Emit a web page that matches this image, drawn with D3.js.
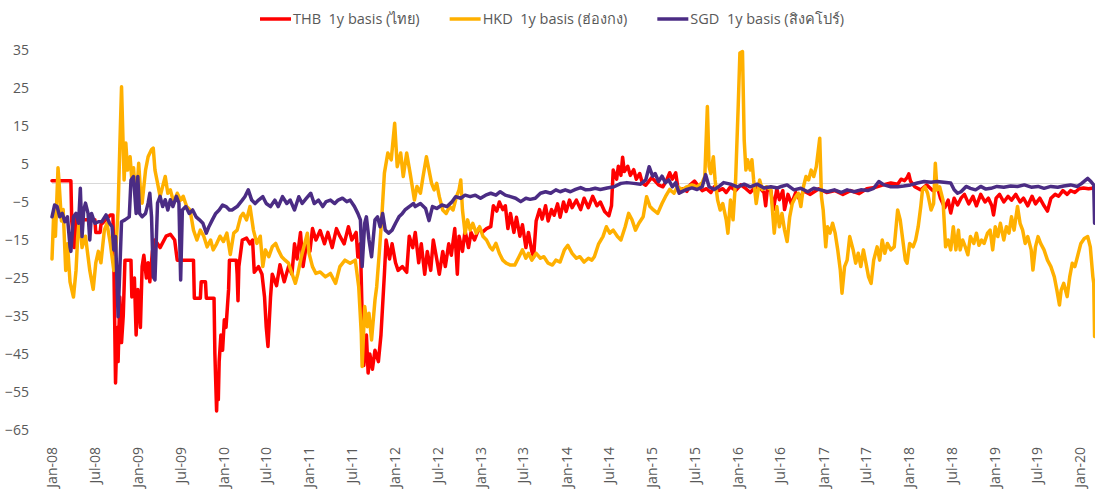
<!DOCTYPE html>
<meta charset="utf-8">
<style>
    body { margin: 0; background: #fff; }
    text {
        font-family: "Open Sans", "Noto Sans", "DejaVu Sans", sans-serif;
        font-size: 14px;
        fill: #595959;
    }
    .legend text { font-size: 14.5px; }
    .series { fill: none; stroke-width: 3.5px; stroke-linejoin: round; stroke-linecap: round; }
    .zero { stroke: #d9d9d9; stroke-width: 1px; }
    .axis path, .axis line { display: none; }
</style>
<body>
    <svg width="1095" height="490"></svg>
</body>
<script src="https://d3js.org/d3.v7.min.js"></script>
<script>
    // [decimal year, basis]
    var thbBasis = [[2008.00,0.6],[2008.22,0.6],[2008.23,-10],[2008.26,-17],[2008.28,-9],[2008.30,-14],[2008.33,-9.7],[2008.50,-9.7],[2008.51,-13],[2008.56,-13],[2008.57,-11],[2008.68,-8.4],[2008.71,-8.4],[2008.72,-20],[2008.74,-52.6],[2008.75,-45],[2008.76,-38],[2008.77,-47],[2008.79,-30],[2008.81,-42],[2008.83,-35],[2008.85,-20.3],[2008.92,-20.3],[2008.93,-30],[2008.96,-25],[2008.98,-40],[2009.00,-28],[2009.03,-38],[2009.05,-22],[2009.07,-19],[2009.10,-25],[2009.12,-21],[2009.14,-26],[2009.17,-18],[2009.20,-15],[2009.26,-17],[2009.33,-14],[2009.38,-13.5],[2009.43,-15],[2009.46,-20.3],[2009.65,-20.3],[2009.66,-30.3],[2009.73,-30.3],[2009.74,-26],[2009.79,-26],[2009.80,-30.3],[2009.89,-30.3],[2009.90,-45],[2009.92,-60],[2009.93,-52],[2009.94,-57],[2009.95,-47],[2009.97,-40],[2009.99,-44],[2010.01,-36],[2010.03,-38],[2010.06,-28],[2010.07,-20.3],[2010.15,-20.3],[2010.16,-24],[2010.17,-31],[2010.18,-22],[2010.22,-15],[2010.27,-14.5],[2010.31,-16],[2010.34,-15],[2010.36,-23.5],[2010.41,-22],[2010.45,-24],[2010.48,-30],[2010.50,-38],[2010.52,-43],[2010.55,-30],[2010.57,-24],[2010.62,-27],[2010.66,-21.5],[2010.71,-26],[2010.76,-22],[2010.80,-24],[2010.83,-16],[2010.86,-20],[2010.90,-13],[2010.93,-22],[2010.97,-16],[2011.01,-18],[2011.04,-12],[2011.08,-15],[2011.13,-12.5],[2011.18,-16],[2011.22,-13],[2011.27,-17],[2011.32,-12],[2011.36,-14],[2011.41,-16],[2011.46,-11.5],[2011.50,-15],[2011.55,-13],[2011.57,-19.5],[2011.60,-16],[2011.62,-35],[2011.64,-48],[2011.67,-40],[2011.69,-50],[2011.71,-45],[2011.74,-49],[2011.77,-44],[2011.81,-47],[2011.84,-40],[2011.88,-24],[2011.90,-15],[2011.94,-20],[2011.97,-16],[2012.01,-21],[2012.04,-23],[2012.09,-22],[2012.14,-23.5],[2012.17,-14],[2012.21,-17],[2012.24,-13],[2012.28,-21],[2012.31,-16],[2012.35,-24],[2012.38,-18],[2012.42,-23],[2012.45,-15],[2012.49,-20],[2012.52,-24],[2012.56,-18],[2012.59,-22],[2012.63,-16],[2012.66,-19],[2012.70,-12],[2012.73,-24],[2012.75,-14],[2012.79,-18],[2012.82,-12.5],[2012.86,-17],[2012.89,-13],[2012.93,-15],[2012.98,-12],[2013.02,-13],[2013.07,-12],[2013.12,-11.5],[2013.15,-6],[2013.19,-7.4],[2013.22,-5],[2013.26,-7],[2013.29,-6],[2013.32,-12],[2013.35,-8],[2013.39,-13],[2013.42,-9],[2013.46,-14],[2013.49,-11],[2013.53,-17],[2013.56,-13],[2013.60,-18],[2013.62,-19.5],[2013.65,-10],[2013.69,-7],[2013.72,-9.5],[2013.76,-6],[2013.79,-10],[2013.83,-7],[2013.86,-8.5],[2013.90,-5.5],[2013.93,-9],[2013.97,-5],[2014.00,-7.5],[2014.04,-4.5],[2014.07,-6.5],[2014.12,-4.5],[2014.17,-7],[2014.21,-4],[2014.26,-6.5],[2014.31,-3.5],[2014.36,-6],[2014.40,-5],[2014.45,-7.5],[2014.50,-8.6],[2014.53,-6],[2014.55,3.4],[2014.59,1],[2014.61,4.4],[2014.64,2],[2014.66,6.8],[2014.68,3],[2014.72,4.4],[2014.75,2],[2014.79,3.5],[2014.82,1],[2014.86,2.5],[2014.89,0],[2014.93,-0.6],[2014.96,0.3],[2015.00,1.4],[2015.04,0.5],[2015.08,-0.5],[2015.13,-1],[2015.17,0.5],[2015.21,2.7],[2015.24,1],[2015.28,2.7],[2015.31,-2],[2015.36,-1.5],[2015.41,-2.2],[2015.45,-0.5],[2015.50,0.5],[2015.55,-1],[2015.59,-2],[2015.64,-1.5],[2015.69,-2.5],[2015.73,-1],[2015.78,-2],[2015.83,-1.5],[2015.87,-2.5],[2015.92,-1],[2015.98,-2],[2016.04,-0.5],[2016.10,-1.5],[2016.15,-2.5],[2016.21,-1],[2016.27,-1.5],[2016.31,-2.5],[2016.33,-6],[2016.35,-1.5],[2016.39,-2],[2016.42,-7],[2016.46,-1.5],[2016.49,-4.4],[2016.53,-2],[2016.55,-7],[2016.59,-3],[2016.63,-5.5],[2016.68,-2.5],[2016.73,-4.5],[2016.77,-2],[2016.85,-3],[2016.95,-1.5],[2017.04,-2.5],[2017.14,-2],[2017.23,-3],[2017.32,-2],[2017.42,-2.8],[2017.51,-1.5],[2017.60,-1.2],[2017.70,-0.5],[2017.79,0],[2017.87,-0.3],[2017.91,1],[2017.95,0.6],[2017.98,1.4],[2018.00,2.4],[2018.02,0.5],[2018.07,-1],[2018.14,-1.8],[2018.21,-0.5],[2018.28,-2],[2018.34,-1.5],[2018.37,-4],[2018.42,-6.5],[2018.46,-4.5],[2018.49,-7.9],[2018.53,-4],[2018.57,-5.8],[2018.61,-4],[2018.65,-3],[2018.70,-5.5],[2018.75,-3.5],[2018.79,-6],[2018.84,-3],[2018.89,-5],[2018.93,-4],[2018.97,-6],[2018.99,-8.4],[2019.02,-4],[2019.06,-3],[2019.11,-5],[2019.16,-3.5],[2019.20,-4.5],[2019.25,-3],[2019.30,-5],[2019.34,-4],[2019.39,-6],[2019.44,-3.5],[2019.48,-5.5],[2019.53,-4],[2019.58,-6],[2019.62,-7.4],[2019.66,-4],[2019.71,-3],[2019.75,-3.5],[2019.80,-2],[2019.85,-3],[2019.89,-2],[2019.94,-2.5],[2019.99,-1.5],[2020.04,-1.3],[2020.10,-1.5],[2020.16,-1.3]];

    var hkdBasis = [[2008.00,-20],[2008.02,-8],[2008.04,-14],[2008.07,4],[2008.08,1],[2008.11,-10],[2008.13,-7],[2008.16,-23],[2008.18,-16],[2008.21,-26],[2008.25,-30],[2008.28,-23],[2008.30,-14],[2008.32,-9],[2008.35,-17],[2008.39,-14],[2008.42,-19.4],[2008.44,-23],[2008.48,-28],[2008.51,-21],[2008.54,-18],[2008.57,-21],[2008.61,-12.4],[2008.64,-10.6],[2008.68,-16],[2008.72,-23],[2008.74,-19],[2008.77,-7],[2008.79,9.6],[2008.81,25.3],[2008.83,9],[2008.84,0.8],[2008.86,10.5],[2008.88,3.4],[2008.91,6.9],[2008.93,0.8],[2008.95,4],[2008.98,-5.3],[2009.01,5.2],[2009.03,-1.8],[2009.05,-5.3],[2009.09,3.4],[2009.12,6.9],[2009.16,8.8],[2009.18,9.2],[2009.20,3.4],[2009.23,0],[2009.26,-3.5],[2009.29,-0.9],[2009.32,1.7],[2009.35,-2.7],[2009.38,-1.8],[2009.42,-5.3],[2009.46,-2.7],[2009.50,-4.5],[2009.53,-3.5],[2009.57,-6.2],[2009.61,-7.1],[2009.65,-12.4],[2009.69,-15],[2009.73,-12.4],[2009.77,-14],[2009.81,-16.8],[2009.85,-15],[2009.88,-17.6],[2009.92,-16],[2009.96,-14],[2010.00,-15.4],[2010.04,-13.2],[2010.08,-18.8],[2010.12,-13.2],[2010.16,-12.4],[2010.20,-8.9],[2010.23,-8],[2010.27,-9.7],[2010.31,-6.2],[2010.35,-12.4],[2010.39,-15.9],[2010.43,-14],[2010.46,-22],[2010.49,-17.6],[2010.53,-19.4],[2010.57,-16.8],[2010.61,-15.9],[2010.64,-17.6],[2010.68,-19.4],[2010.72,-20.3],[2010.76,-21.1],[2010.80,-23.8],[2010.84,-26.4],[2010.87,-23.8],[2010.91,-19.4],[2010.95,-15.9],[2010.98,-13.2],[2011.00,-18.5],[2011.04,-22],[2011.08,-23.8],[2011.13,-23.4],[2011.19,-24.7],[2011.25,-23.8],[2011.31,-26.4],[2011.36,-22],[2011.42,-20.3],[2011.48,-21.1],[2011.54,-20.3],[2011.58,-27.3],[2011.61,-39.6],[2011.62,-48.3],[2011.65,-32.5],[2011.68,-37.8],[2011.70,-34.3],[2011.73,-41.3],[2011.77,-30.8],[2011.79,-27.3],[2011.82,-18.5],[2011.85,-8.9],[2011.88,2.6],[2011.92,7.9],[2011.96,6.1],[2012.00,15.7],[2012.03,4.3],[2012.07,7.9],[2012.10,1.7],[2012.14,7.9],[2012.18,2.6],[2012.23,-4.5],[2012.26,-0.9],[2012.30,-2.7],[2012.33,1.6],[2012.37,6.9],[2012.40,3.4],[2012.43,-0.1],[2012.46,-1.8],[2012.49,-0.1],[2012.52,-3.6],[2012.56,-7.1],[2012.60,-8],[2012.64,-6.2],[2012.68,-7.1],[2012.72,-3.6],[2012.75,-1.8],[2012.77,0.8],[2012.79,-7.1],[2012.82,-13.2],[2012.85,-9.7],[2012.88,-12.4],[2012.91,-10.6],[2012.95,-13.2],[2012.99,-11.5],[2013.03,-14.1],[2013.07,-15],[2013.11,-16.8],[2013.14,-17.6],[2013.18,-15.9],[2013.22,-18.5],[2013.26,-20.3],[2013.30,-21.1],[2013.35,-21.6],[2013.40,-21.6],[2013.45,-19.4],[2013.49,-17.6],[2013.53,-19.8],[2013.56,-18.5],[2013.60,-20.3],[2013.65,-18.5],[2013.70,-19.8],[2013.74,-19.4],[2013.79,-21.1],[2013.84,-21.6],[2013.88,-20.3],[2013.93,-20.8],[2013.98,-17.6],[2014.02,-16.4],[2014.07,-18.5],[2014.12,-19.8],[2014.16,-19.4],[2014.21,-20.8],[2014.26,-19.8],[2014.30,-20.3],[2014.33,-19.4],[2014.38,-16],[2014.43,-14.1],[2014.47,-11.5],[2014.51,-13.2],[2014.55,-12.4],[2014.60,-14.1],[2014.64,-15],[2014.69,-11.5],[2014.73,-8],[2014.77,-9.7],[2014.81,-12.4],[2014.85,-10.6],[2014.90,-8.9],[2014.94,-3.6],[2014.98,-6.2],[2015.02,-7.1],[2015.07,-8],[2015.12,-5.4],[2015.16,-3.6],[2015.21,-1.7],[2015.26,-2.7],[2015.30,-1],[2015.36,-1.7],[2015.41,-1],[2015.47,-0.5],[2015.53,-1],[2015.59,0.1],[2015.62,1.7],[2015.65,20.1],[2015.67,4.3],[2015.69,2.5],[2015.72,6.9],[2015.74,0.8],[2015.77,-4.5],[2015.80,-7.1],[2015.83,-5.4],[2015.87,-9.7],[2015.89,-13.2],[2015.92,-4.5],[2015.95,-9.7],[2015.98,0.8],[2016.01,20.1],[2016.03,34.2],[2016.06,34.6],[2016.08,11.3],[2016.10,3.4],[2016.12,6.1],[2016.15,3.4],[2016.17,6.1],[2016.19,0.8],[2016.22,-5.4],[2016.26,0.8],[2016.29,-1.7],[2016.34,-1],[2016.39,-1.7],[2016.43,-13.2],[2016.46,-6.2],[2016.49,-11.5],[2016.52,-8],[2016.55,-12.4],[2016.58,-15.4],[2016.61,-8.9],[2016.64,-5.4],[2016.68,-3.6],[2016.71,-2.7],[2016.74,-6.2],[2016.77,-1],[2016.80,1.7],[2016.83,0.8],[2016.86,3.4],[2016.89,1.7],[2016.92,4.3],[2016.96,11.8],[2016.98,-3.6],[2017.00,-7.1],[2017.03,-16.8],[2017.05,-11.5],[2017.08,-13.2],[2017.11,-10.6],[2017.14,-13.2],[2017.17,-17.6],[2017.20,-22.9],[2017.22,-29],[2017.25,-22],[2017.28,-20.3],[2017.31,-14.1],[2017.35,-17.6],[2017.38,-21.1],[2017.41,-18.5],[2017.44,-22],[2017.47,-17.6],[2017.50,-21.1],[2017.53,-24.7],[2017.56,-26.4],[2017.59,-20.3],[2017.63,-16.8],[2017.66,-20.3],[2017.69,-15],[2017.72,-18.5],[2017.75,-15.9],[2017.79,-17.6],[2017.83,-16.8],[2017.87,-7.1],[2017.90,-9.7],[2017.93,-15],[2017.96,-20.3],[2017.98,-21.1],[2018.01,-15.9],[2018.05,-16.8],[2018.08,-15],[2018.11,-11.5],[2018.14,-6.2],[2018.16,-1.8],[2018.19,-1],[2018.22,-2.7],[2018.26,-7.1],[2018.29,-5.4],[2018.31,5.2],[2018.33,-1.8],[2018.36,-1],[2018.40,-4.5],[2018.43,-16.8],[2018.46,-15],[2018.49,-17.6],[2018.52,-11.5],[2018.55,-17.6],[2018.58,-12.4],[2018.60,-17.6],[2018.63,-15],[2018.66,-16.8],[2018.69,-18.9],[2018.72,-14.1],[2018.76,-15.9],[2018.79,-13.2],[2018.82,-16.4],[2018.85,-15],[2018.88,-15.9],[2018.92,-13.2],[2018.95,-12.4],[2018.98,-17.6],[2019.01,-11.5],[2019.04,-14.1],[2019.07,-10.6],[2019.11,-15],[2019.14,-11.5],[2019.17,-13.2],[2019.20,-8.9],[2019.23,-12.4],[2019.27,-6.2],[2019.30,-10.6],[2019.33,-12.4],[2019.36,-15.9],[2019.39,-14.1],[2019.43,-17.6],[2019.45,-22.9],[2019.48,-16.8],[2019.51,-14.1],[2019.54,-15.9],[2019.58,-17.6],[2019.62,-20.3],[2019.66,-22],[2019.70,-24.7],[2019.73,-28.2],[2019.76,-32.1],[2019.78,-28.2],[2019.81,-26.4],[2019.85,-29.9],[2019.88,-24.7],[2019.91,-21.1],[2019.94,-22],[2019.97,-19.4],[2020.01,-15.9],[2020.05,-14.6],[2020.09,-14.1],[2020.12,-16.8],[2020.15,-24.7],[2020.16,-26.4],[2020.17,-40.4]];

    var sgdBasis = [[2008.00,-8.9],[2008.03,-5.8],[2008.06,-6.2],[2008.09,-8.9],[2008.12,-8],[2008.15,-10.2],[2008.18,-8.9],[2008.21,-16.8],[2008.22,-18],[2008.25,-8.9],[2008.28,-8],[2008.31,-10.6],[2008.33,-1.4],[2008.35,-14.1],[2008.37,-7.1],[2008.39,-5.3],[2008.42,-8],[2008.44,-15],[2008.46,-8],[2008.50,-10.6],[2008.54,-10.2],[2008.58,-10.2],[2008.63,-8.4],[2008.67,-10.6],[2008.70,-11.5],[2008.72,-17.6],[2008.74,-14.1],[2008.77,-35.2],[2008.79,-22.9],[2008.81,-10.2],[2008.85,-9.7],[2008.90,-8.9],[2008.92,0.8],[2008.95,1.7],[2008.98,-8],[2009.00,1.7],[2009.02,-8],[2009.05,-8.9],[2009.09,-8],[2009.12,-5.3],[2009.14,-2.7],[2009.16,-8.9],[2009.18,-24.7],[2009.20,-25.5],[2009.23,-5.3],[2009.26,-3.5],[2009.29,-6.2],[2009.32,-4.4],[2009.35,-7.1],[2009.38,-4.4],[2009.41,-6.2],[2009.45,-3.5],[2009.48,-5.3],[2009.50,-25.5],[2009.52,-7.1],[2009.56,-6.2],[2009.60,-8],[2009.64,-7.1],[2009.68,-8.9],[2009.72,-9.7],[2009.76,-10.6],[2009.80,-13.2],[2009.83,-11.5],[2009.87,-9.7],[2009.91,-8],[2009.95,-7.1],[2009.99,-5.8],[2010.03,-6.2],[2010.07,-7.1],[2010.10,-7.1],[2010.16,-6.2],[2010.22,-4.5],[2010.25,-3.6],[2010.29,-1.8],[2010.33,-4.5],[2010.37,-5.4],[2010.41,-4.5],[2010.46,-3.6],[2010.50,-5.4],[2010.55,-6.2],[2010.60,-4.5],[2010.64,-6.2],[2010.69,-3.6],[2010.74,-5.4],[2010.78,-4.5],[2010.83,-7.1],[2010.88,-3.6],[2010.92,-5.4],[2010.97,-4],[2011.02,-2.7],[2011.06,-5.4],[2011.11,-4.5],[2011.16,-6.2],[2011.20,-4.9],[2011.25,-4.5],[2011.30,-5.4],[2011.34,-4.5],[2011.39,-4],[2011.44,-4.9],[2011.48,-4.5],[2011.53,-6.2],[2011.57,-8],[2011.60,-9.7],[2011.62,-22],[2011.65,-10.6],[2011.67,-8.9],[2011.70,-15],[2011.73,-19.4],[2011.77,-9.7],[2011.80,-8.9],[2011.83,-11.5],[2011.86,-8],[2011.89,-12.4],[2011.93,-13.2],[2011.97,-12.4],[2012.01,-10.6],[2012.05,-8.9],[2012.09,-8],[2012.12,-7.1],[2012.17,-6.2],[2012.22,-5.4],[2012.24,-6.2],[2012.30,-5.4],[2012.36,-6.7],[2012.40,-9.9],[2012.44,-6.2],[2012.49,-6.7],[2012.55,-5.8],[2012.61,-6.2],[2012.67,-4.9],[2012.71,-3.6],[2012.77,-4],[2012.82,-3.2],[2012.88,-3.6],[2012.94,-3.2],[2013.00,-4],[2013.06,-3.2],[2013.12,-2.7],[2013.18,-3.2],[2013.23,-2.3],[2013.29,-3.2],[2013.35,-3.6],[2013.41,-4],[2013.47,-4.9],[2013.53,-4],[2013.58,-4.3],[2013.64,-4],[2013.70,-2.7],[2013.76,-2.3],[2013.82,-2.7],[2013.88,-1.8],[2013.93,-2.3],[2013.99,-1.8],[2014.05,-2.3],[2014.11,-1.7],[2014.17,-1.2],[2014.23,-1.8],[2014.28,-1.7],[2014.34,-1.4],[2014.40,-1.7],[2014.48,-1.3],[2014.56,-1],[2014.64,-0.1],[2014.71,0.1],[2014.79,-0.1],[2014.87,-0.3],[2014.93,0.8],[2014.97,4.3],[2015.01,1.8],[2015.04,2.5],[2015.08,0.4],[2015.12,1.8],[2015.16,0.1],[2015.20,0.8],[2015.24,-1],[2015.28,0.1],[2015.32,-2.7],[2015.36,-2.2],[2015.41,-1.7],[2015.47,-1.3],[2015.53,-1.7],[2015.59,-1],[2015.63,2.2],[2015.67,-1],[2015.73,-1.7],[2015.78,-1],[2015.84,0.1],[2015.92,-0.3],[2016.00,-1],[2016.08,-0.3],[2016.15,-1],[2016.23,-0.3],[2016.31,-1.3],[2016.39,-1],[2016.47,-1.3],[2016.50,-1],[2016.58,-0.5],[2016.66,-1.8],[2016.74,-1.4],[2016.82,-2.3],[2016.89,-1.4],[2016.97,-1.8],[2017.05,-2.3],[2017.13,-1.8],[2017.21,-2.5],[2017.28,-1.8],[2017.36,-2.3],[2017.44,-1.8],[2017.52,-2],[2017.59,-1.4],[2017.65,0.4],[2017.71,-0.5],[2017.79,-1],[2017.87,-1],[2017.94,-0.8],[2018.02,-0.5],[2018.10,0],[2018.18,0.4],[2018.26,0.2],[2018.33,0.4],[2018.41,0.2],[2018.49,0],[2018.53,-1.8],[2018.57,-2.7],[2018.61,-2.3],[2018.67,-0.9],[2018.72,-1.4],[2018.78,-1.8],[2018.84,-0.9],[2018.90,-1.6],[2018.96,-1.4],[2019.03,-0.9],[2019.11,-1.1],[2019.19,-0.8],[2019.27,-0.9],[2019.35,-0.5],[2019.43,-1.1],[2019.51,-0.9],[2019.58,-1.4],[2019.66,-0.9],[2019.74,-1.1],[2019.81,-0.8],[2019.89,-0.5],[2019.97,-0.9],[2020.02,-0.1],[2020.09,1.2],[2020.13,0.3],[2020.16,-0.5],[2020.17,-10.6]];

    var seriesNames = ["THB  1y basis (ไทย)", "HKD  1y basis (ฮ่องกง)", "SGD  1y basis (สิงคโปร์)"];
    var yTicks = [35, 25, 15, 5, -5, -15, -25, -35, -45, -55, -65];
    var endDate = 2020.17;

    var colors = ["#ff0000", "#ffb000", "#4b2c84"];

    var svg = d3.select("svg");

    // decimal year -> Date
    function toDate(t) {
        var yr = Math.floor(t);
        var a = Date.UTC(yr, 0, 1), b = Date.UTC(yr + 1, 0, 1);
        return new Date(a + (t - yr) * (b - a));
    }

    var x = d3.scaleUtc()
        .domain([toDate(2008), toDate(2020)])
        .range([52, 1080]);

    var y = d3.scaleLinear()
        .domain([-65, 35])
        .range([430, 50]);

    // zero line
    svg.append("line")
        .attr("class", "zero")
        .attr("x1", x(toDate(2008)))
        .attr("x2", x(toDate(endDate)))
        .attr("y1", Math.round(y(0)) + 0.5)
        .attr("y2", Math.round(y(0)) + 0.5);

    // y axis
    svg.append("g")
        .attr("class", "axis")
        .attr("transform", "translate(52,0)")
        .call(d3.axisLeft(y).tickValues(yTicks).tickSize(0).tickPadding(23))
        .selectAll("text")
        .attr("dy", "0.35em");

    // x axis, labels rotated
    var xTicks = d3.utcMonth.every(6).range(toDate(2008), toDate(2020.01));
    svg.append("g")
        .attr("class", "axis")
        .attr("transform", "translate(0,430)")
        .call(d3.axisBottom(x).tickValues(xTicks).tickSize(0).tickFormat(d3.utcFormat("%b-%y")))
        .selectAll("text")
        .attr("transform", "rotate(-90)")
        .attr("x", -17)
        .attr("y", 0)
        .attr("dy", "0.35em")
        .style("text-anchor", "end");

    var line = d3.line()
        .x(function (d) { return x(toDate(d[0])); })
        .y(function (d) { return y(d[1]); });

    var data = [thbBasis, hkdBasis, sgdBasis];
    svg.append("g").selectAll("path")
        .data(data)
        .enter().append("path")
        .attr("class", "series")
        .attr("stroke", function (d, i) { return colors[i]; })
        .attr("d", line);

    // legend
    var legend = svg.append("g").attr("class", "legend").attr("transform", "translate(260,19)");
    var lx = 0;
    seriesNames.forEach(function (name, i) {
        var item = legend.append("g").attr("transform", "translate(" + lx + ",0)");
        item.append("line")
            .attr("x1", 0).attr("x2", 31)
            .attr("stroke", colors[i])
            .attr("stroke-width", 3.5);
        var t = item.append("text")
            .attr("x", 33)
            .attr("dy", "0.35em")
            .style("white-space", "pre")
            .text(name);
        lx += 33 + t.node().getComputedTextLength() + 30;
    });
</script>
